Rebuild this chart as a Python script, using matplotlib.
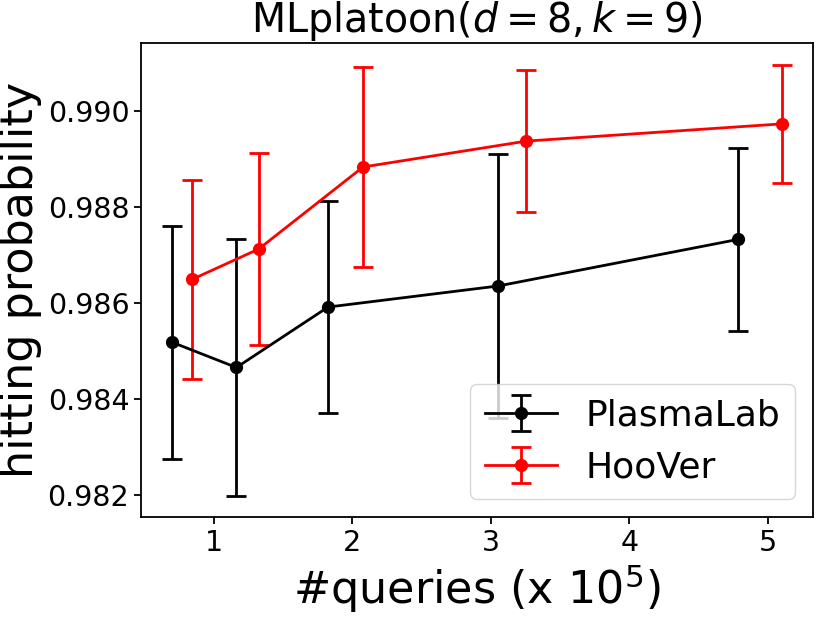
import numpy as np
import matplotlib
matplotlib.use("Agg")
import matplotlib.pyplot as plt

# PlasmaLab
x_plasma = [0.694, 1.162, 1.824, 3.055, 4.786]
y_plasma = [0.98518, 0.98465, 0.98591, 0.98635, 0.98732]
err_plasma = [0.00243, 0.00267, 0.00221, 0.00276, 0.00191]

# HooVer
x_hoover = [0.844, 1.323, 2.077, 3.257, 5.107]
y_hoover = [0.98649, 0.98712, 0.98883, 0.98937, 0.98973]
err_hoover = [0.00207, 0.00200, 0.00208, 0.00148, 0.00123]

fig = plt.figure(figsize=(8.3, 6.23), dpi=100)
ax = fig.add_axes([0.170, 0.170, 0.8095, 0.7605])

ax.errorbar(x_plasma, y_plasma, yerr=err_plasma, color='black', marker='o',
            markersize=8.5, linewidth=2, capsize=7, capthick=2, label='PlasmaLab')
ax.errorbar(x_hoover, y_hoover, yerr=err_hoover, color='red', marker='o',
            markersize=8.5, linewidth=2, capsize=7, capthick=2, label='HooVer')

ax.set_title(r"MLplatoon($d=8, k=9$)", fontsize=28.5, pad=1)
ax.set_xlabel(r"#queries (x $10^5$)", fontsize=32)
ax.set_ylabel("hitting probability", fontsize=32, labelpad=4)
ax.tick_params(labelsize=20.5, width=1.3, length=5)
ax.set_yticks([0.982, 0.984, 0.986, 0.988, 0.990])
ax.set_xticks([1, 2, 3, 4, 5])
for s in ax.spines.values():
    s.set_linewidth(1.3)
ax.legend(loc='lower right', fontsize=26)

fig.savefig("out.png", dpi=100)
